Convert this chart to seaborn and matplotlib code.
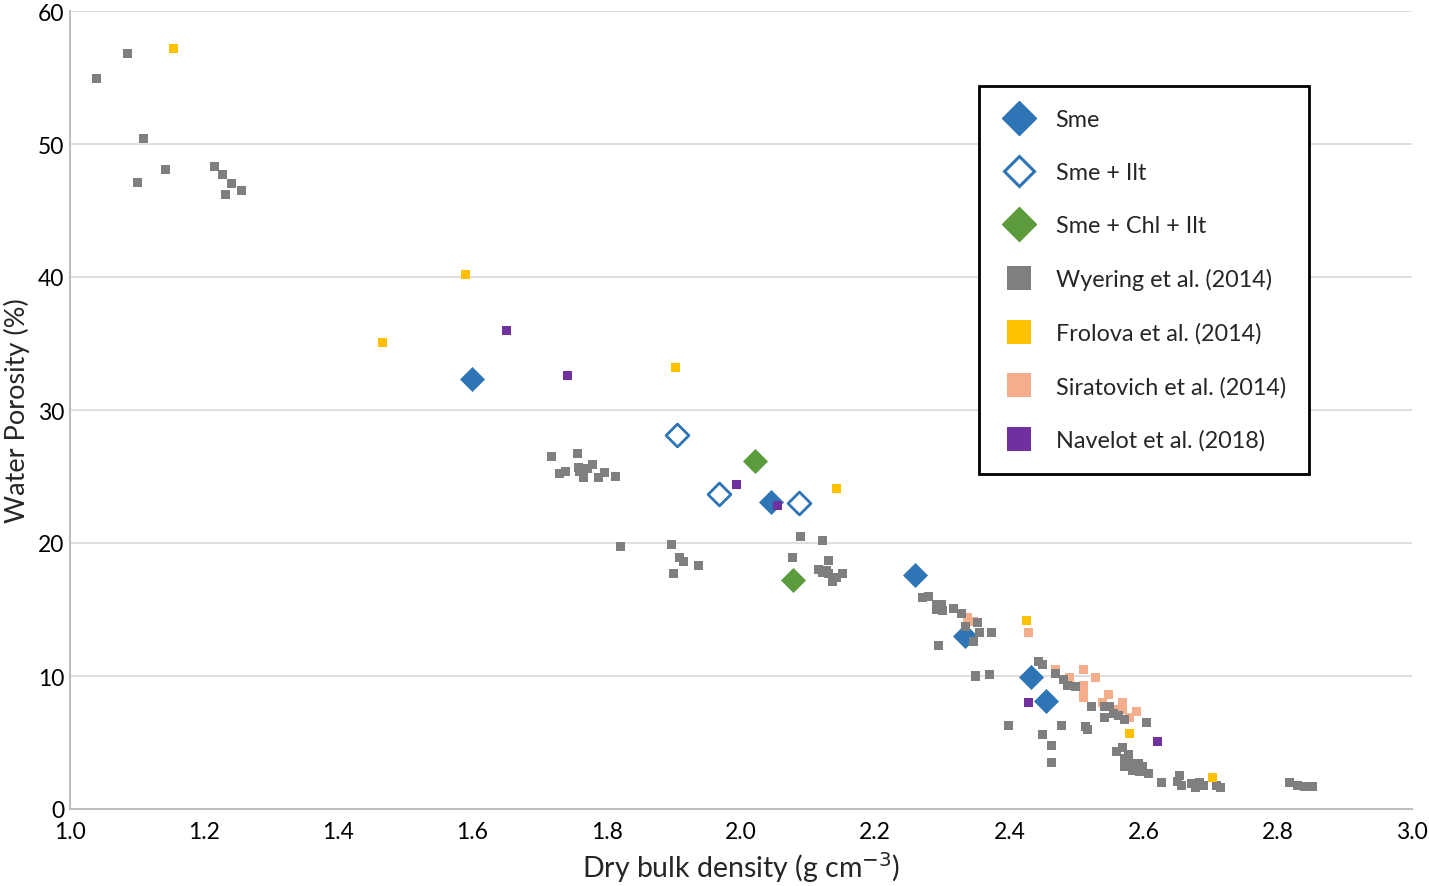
import matplotlib
matplotlib.use("Agg")
import matplotlib.pyplot as plt
import seaborn as sns
import pandas as pd
from matplotlib.lines import Line2D

# ---------------- data ----------------
sme_x = [1.599, 2.045, 2.259, 2.334, 2.432, 2.455]
sme_y = [32.3, 23.1, 17.6, 13.0, 9.9, 8.1]

smeilt_x = [1.905, 1.967, 2.086]
smeilt_y = [28.1, 23.7, 23.0]

smechl_x = [2.021, 2.078]
smechl_y = [26.2, 17.2]

wy_x = [1.039, 1.086, 1.109, 1.100, 1.143, 1.216, 1.227, 1.240, 1.231, 1.256,
        1.717, 1.756, 1.729, 1.739, 1.758, 1.759, 1.765, 1.771, 1.778, 1.788, 1.796, 1.813,
        1.821, 1.897, 1.909, 1.915, 1.937, 1.899,
        2.089, 2.121, 2.077, 2.131, 2.115, 2.121, 2.127, 2.130, 2.137, 2.143, 2.152,
        2.271, 2.280, 2.292, 2.299, 2.291, 2.301, 2.316, 2.328, 2.352, 2.355, 2.335, 2.347, 2.373, 2.295,
        2.350, 2.370, 2.443, 2.450, 2.469, 2.480, 2.487, 2.499, 2.522,
        2.542, 2.549, 2.555, 2.562, 2.571, 2.541, 2.605, 2.398, 2.450, 2.462, 2.463, 2.478, 2.513, 2.516,
        2.560, 2.568, 2.572, 2.578, 2.583, 2.571, 2.587, 2.593, 2.599, 2.584, 2.594, 2.608, 2.626,
        2.653, 2.651, 2.657, 2.672, 2.677, 2.683, 2.689, 2.709, 2.714,
        2.818, 2.830, 2.840, 2.851]
wy_y = [54.9, 56.8, 50.4, 47.1, 48.1, 48.3, 47.7, 47.0, 46.2, 46.5,
        26.5, 26.7, 25.2, 25.4, 25.7, 25.4, 24.9, 25.6, 25.9, 24.9, 25.3, 25.0,
        19.7, 19.9, 18.9, 18.6, 18.3, 17.7,
        20.5, 20.2, 18.9, 18.7, 18.0, 17.8, 17.9, 17.7, 17.1, 17.4, 17.7,
        15.9, 16.0, 15.4, 15.4, 15.0, 14.9, 15.1, 14.7, 14.0, 13.3, 13.7, 12.6, 13.3, 12.3,
        10.0, 10.1, 11.1, 10.9, 10.2, 9.7, 9.3, 9.2, 7.7,
        7.7, 7.7, 7.2, 7.0, 6.7, 6.9, 6.5, 6.3, 5.6, 4.8, 3.5, 6.3, 6.2, 6.0,
        4.3, 4.6, 3.8, 4.1, 3.4, 3.2, 3.2, 3.4, 3.2, 2.9, 2.8, 2.7, 2.0,
        2.5, 2.1, 1.8, 1.9, 1.6, 2.0, 1.8, 1.8, 1.6,
        2.0, 1.8, 1.7, 1.7]

fr_x = [1.154, 1.589, 1.466, 1.902, 2.143, 2.426, 2.579, 2.702]
fr_y = [57.2, 40.2, 35.1, 33.2, 24.1, 14.2, 5.7, 2.4]

sir_x = [2.337, 2.346, 2.428, 2.468, 2.510, 2.529, 2.490, 2.510, 2.510, 2.510,
         2.548, 2.539, 2.569, 2.569, 2.579, 2.590, 2.560]
sir_y = [14.4, 14.1, 13.3, 10.5, 10.5, 9.9, 9.9, 9.3, 9.0, 8.4,
         8.6, 8.0, 8.0, 7.5, 6.9, 7.3, 7.5]

nv_x = [1.650, 1.741, 1.993, 2.054, 2.428, 2.620]
nv_y = [36.0, 32.6, 24.4, 22.8, 8.0, 5.1]

labels = ["Sme", "Sme + Ilt", "Sme + Chl + Ilt", "Wyering et al. (2014)",
          "Frolova et al. (2014)", "Siratovich et al. (2014)", "Navelot et al. (2018)"]

x_ticks = [1.0, 1.2, 1.4, 1.6, 1.8, 2.0, 2.2, 2.4, 2.6, 2.8, 3.0]
y_ticks = [0, 10, 20, 30, 40, 50, 60]

# ---------------- style ----------------
BLUE = "#2E75B6"
GREEN = "#5B9B3C"
GRAY = "#7F7F7F"
YELLOW = "#FFC000"
SALMON = "#F4AE8C"
PURPLE = "#7030A0"

sns.set_theme(style="white")
plt.rcParams["font.family"] = ["Lato", "DejaVu Sans"]

fig = plt.figure(figsize=(14.29, 8.87), dpi=100)
ax = fig.add_axes([70 / 1429, 1 - 810 / 887, 1342 / 1429, 798 / 887])

ax.yaxis.grid(True, color="#d9d9d9", linewidth=1.2, zorder=0)
ax.set_axisbelow(True)

diam_s = 150
sq_s = 42

sns.scatterplot(x=sme_x, y=sme_y, ax=ax, marker="D", s=diam_s, color=BLUE,
                edgecolor=BLUE, linewidth=0.5, zorder=3)
sns.scatterplot(x=smeilt_x, y=smeilt_y, ax=ax, marker="D", s=diam_s * 0.9,
                facecolor="white", edgecolor=BLUE, linewidth=2.0, zorder=3)
sns.scatterplot(x=smechl_x, y=smechl_y, ax=ax, marker="D", s=diam_s, color=GREEN,
                edgecolor=GREEN, linewidth=0.5, zorder=3)
sns.scatterplot(x=sir_x, y=sir_y, ax=ax, marker="s", s=sq_s, color=SALMON,
                edgecolor="none", linewidth=0, zorder=4)
sns.scatterplot(x=wy_x, y=wy_y, ax=ax, marker="s", s=sq_s, color=GRAY,
                edgecolor="none", linewidth=0, zorder=4)
sns.scatterplot(x=fr_x, y=fr_y, ax=ax, marker="s", s=sq_s, color=YELLOW,
                edgecolor="none", linewidth=0, zorder=4)
sns.scatterplot(x=nv_x, y=nv_y, ax=ax, marker="s", s=sq_s, color=PURPLE,
                edgecolor="none", linewidth=0, zorder=4)

ax.set_xlim(1.0, 3.0)
ax.set_ylim(0, 60)
ax.set_xticks(x_ticks)
ax.set_xticklabels([f"{v:.1f}" for v in x_ticks])
ax.set_yticks(y_ticks)
ax.set_yticklabels([str(v) for v in y_ticks])
ax.tick_params(axis="both", length=0, labelsize=16.5, colors="black")
ax.tick_params(axis="x", pad=9)
ax.tick_params(axis="y", pad=4)

for side in ["top", "right"]:
    ax.spines[side].set_visible(False)
for side in ["left", "bottom"]:
    ax.spines[side].set_color("#bfbfbf")
    ax.spines[side].set_linewidth(1.5)

ax.set_xlabel("Dry bulk density (g cm$^{-3}$)", fontsize=20.5, labelpad=5)
ax.set_ylabel("Water Porosity (%)", fontsize=19.5, labelpad=6)

# ---------------- legend ----------------
handles = [
    Line2D([], [], linestyle="none", marker="D", markersize=17, color=BLUE, markeredgecolor=BLUE),
    Line2D([], [], linestyle="none", marker="D", markersize=15.5, markerfacecolor="white",
           markeredgecolor=BLUE, markeredgewidth=2.2),
    Line2D([], [], linestyle="none", marker="D", markersize=17, color=GREEN, markeredgecolor=GREEN),
    Line2D([], [], linestyle="none", marker="s", markersize=17.5, color=GRAY, markeredgewidth=0),
    Line2D([], [], linestyle="none", marker="s", markersize=17.5, color=YELLOW, markeredgewidth=0),
    Line2D([], [], linestyle="none", marker="s", markersize=17.5, color=SALMON, markeredgewidth=0),
    Line2D([], [], linestyle="none", marker="s", markersize=17.5, color=PURPLE, markeredgewidth=0),
]
leg = ax.legend(handles, labels, loc="upper left", bbox_to_anchor=(0.677, 0.906),
                fontsize=16.8, frameon=True, fancybox=False, edgecolor="black",
                framealpha=1, borderpad=1.0, labelspacing=1.37, handletextpad=0.8,
                handlelength=1.5, borderaxespad=0)
leg.get_frame().set_linewidth(2)

fig.savefig("out.png", dpi=100)
